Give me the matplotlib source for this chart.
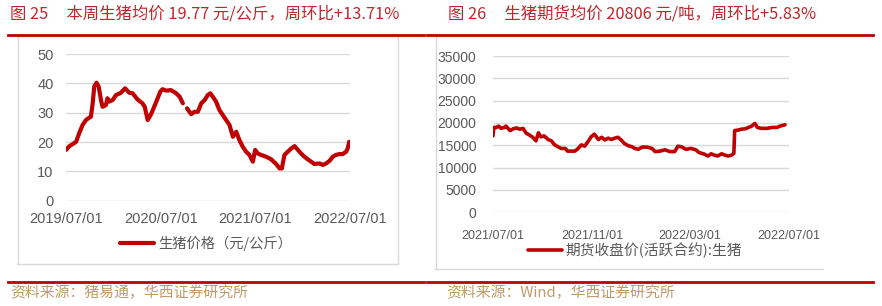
import matplotlib
matplotlib.use("Agg")
import matplotlib.pyplot as plt
import matplotlib.dates as mdates
from matplotlib.lines import Line2D
from matplotlib import font_manager
import numpy as np
import pandas as pd

# ---------------- data ----------------
hog_dates = ["2019-07-01", "2019-07-14", "2019-07-27", "2019-08-09", "2019-08-21", "2019-09-03",
             "2019-09-16", "2019-09-29", "2019-10-05", "2019-10-12", "2019-10-18", "2019-10-27",
             "2019-11-04", "2019-11-13", "2019-11-19", "2019-12-02", "2019-12-08", "2019-12-15",
             "2019-12-28", "2020-01-10", "2020-01-29", "2020-02-14", "2020-03-01", "2020-03-14",
             "2020-04-02", "2020-04-21", "2020-04-30", "2020-05-11", "2020-05-21", "2020-06-03",
             "2020-06-16", "2020-06-29", "2020-07-08", "2020-07-21", "2020-08-09", "2020-08-29",
             "2020-09-11", "2020-09-24", "2020-10-02", "2020-10-10", "2020-10-26", "2020-11-08",
             "2020-11-21", "2020-12-04", "2020-12-17", "2020-12-29", "2021-01-08", "2021-01-17",
             "2021-01-30", "2021-02-12", "2021-02-25", "2021-03-10", "2021-03-23", "2021-04-05",
             "2021-04-18", "2021-04-30", "2021-05-13", "2021-05-26", "2021-06-08", "2021-06-21",
             "2021-06-30", "2021-07-10", "2021-07-23", "2021-08-11", "2021-08-31", "2021-09-19",
             "2021-10-02", "2021-10-11", "2021-10-21", "2021-11-03", "2021-11-16", "2021-11-29",
             "2021-12-12", "2021-12-24", "2022-01-06", "2022-01-19", "2022-02-01", "2022-02-14",
             "2022-03-05", "2022-03-18", "2022-03-31", "2022-04-13", "2022-04-26", "2022-05-08",
             "2022-05-21", "2022-06-03", "2022-06-16", "2022-06-22", "2022-06-28"]
hog_price = [17.3, 18.6, 19.3, 20.1, 23.0, 25.8,
             27.5, 28.3, 28.6, 33.2, 38.9, 40.2,
             38.9, 34.3, 32.0, 32.6, 34.9, 33.8,
             34.3, 36.0, 36.8, 38.3, 36.8, 36.6,
             34.5, 33.2, 32.0, 27.5, 28.9, 31.5,
             34.3, 37.2, 38.0, 37.5, 37.7, 36.6,
             35.5, 33.2, np.nan, 31.5, 29.5, 30.3,
             30.3, 33.2, 34.3, 36.0, 36.6, 35.5,
             33.8, 30.9, 29.2, 27.5, 25.8, 21.8,
             23.5, 20.7, 18.4, 16.7, 15.6, 13.3,
             17.3, 16.1, 15.6, 15.0, 14.1, 12.5,
             11.0, 11.0, 15.6, 16.7, 17.8, 18.6,
             17.3, 16.1, 15.0, 14.1, 13.3, 12.5,
             12.7, 12.2, 12.7, 13.6, 15.0, 15.6,
             15.9, 15.9, 16.7, 17.8, 20.1]

fut_dates = ["2021-07-01", "2021-07-02", "2021-07-05", "2021-07-08", "2021-07-11", "2021-07-15",
             "2021-07-17", "2021-07-22", "2021-07-26", "2021-07-30", "2021-08-03", "2021-08-07",
             "2021-08-11", "2021-08-15", "2021-08-19", "2021-08-23", "2021-08-26", "2021-08-29",
             "2021-09-02", "2021-09-07", "2021-09-11", "2021-09-15", "2021-09-19", "2021-09-23",
             "2021-09-28", "2021-10-01", "2021-10-06", "2021-10-10", "2021-10-14", "2021-10-18",
             "2021-10-22", "2021-10-26", "2021-10-30", "2021-11-03", "2021-11-08", "2021-11-12",
             "2021-11-16", "2021-11-20", "2021-11-24", "2021-11-28", "2021-12-02", "2021-12-06",
             "2021-12-10", "2021-12-15", "2021-12-19", "2021-12-23", "2021-12-27", "2022-01-01",
             "2022-01-07", "2022-01-13", "2022-01-17", "2022-01-23", "2022-01-29", "2022-02-04",
             "2022-02-10", "2022-02-14", "2022-02-18", "2022-02-24", "2022-03-02", "2022-03-08",
             "2022-03-12", "2022-03-19", "2022-03-23", "2022-03-27", "2022-03-31", "2022-04-04",
             "2022-04-09", "2022-04-13", "2022-04-17", "2022-04-21", "2022-04-24", "2022-04-25",
             "2022-04-29", "2022-05-03", "2022-05-08", "2022-05-12", "2022-05-16", "2022-05-20",
             "2022-05-23", "2022-05-28", "2022-06-04", "2022-06-10", "2022-06-16", "2022-06-20",
             "2022-06-26"]
fut_price = [17100, 19000, 19000, 19300, 18800, 19000,
             19300, 18300, 18700, 18900, 18600, 18800,
             17700, 17300, 16800, 16000, 17800, 16900,
             17100, 16300, 16000, 15100, 14700, 14300,
             14300, 13700, 13700, 13700, 14300, 15100,
             14800, 15800, 16900, 17500, 16300, 16800,
             16200, 16600, 16300, 16600, 16800, 16200,
             15400, 14900, 14700, 14300, 14100, 14600,
             14600, 14300, 13600, 13700, 14000, 13600,
             13600, 14800, 14700, 14100, 14300, 14000,
             13400, 13000, 12600, 13100, 12800, 12600,
             13100, 12800, 12600, 12800, 13200, 18300,
             18400, 18600, 18700, 19000, 19300, 19900,
             19000, 18800, 18800, 19000, 19000, 19300,
             19600]

left_yticks = [0, 10, 20, 30, 40, 50]
left_xticks = ["2019-07-01", "2020-07-01", "2021-07-01", "2022-07-01"]
right_yticks = [0, 5000, 10000, 15000, 20000, 25000, 30000, 35000]
right_xticks = ["2021-07-01", "2021-11-01", "2022-03-01", "2022-07-01"]

title_left = "图 25     本周生猪均价 19.77 元/公斤，周环比+13.71%"
title_right = "图 26     生猪期货均价 20806 元/吨，周环比+5.83%"
legend_left = "生猪价格（元/公斤）"
legend_right = "期货收盘价(活跃合约):生猪"
source_left = "资料来源：猪易通，华西证券研究所"
source_right = "资料来源：Wind，华西证券研究所"

# ---------------- style ----------------
plt.rcParams['font.family'] = ['Liberation Sans', 'Noto Sans CJK SC', 'DejaVu Sans']
CJK = ['Noto Sans CJK SC', 'DejaVu Sans']
names = {f.name for f in font_manager.fontManager.ttflist}
NARROW = 'Liberation Sans Narrow' if 'Liberation Sans Narrow' in names else 'Liberation Sans'
narrow_size = 10.5 if NARROW == 'Liberation Sans Narrow' else 9

RED = '#C00000'
TXT_RED = '#C0272D'
GRAY = '#595959'
GRID = '#D9D9D9'
TAN = '#BF9A6A'

W, H = 882, 306
fig = plt.figure(figsize=(W / 100, H / 100), dpi=100)


def fx(x):
    return x / W


def fy(y):
    return 1 - y / H


def hline(x0, x1, y, color, lw):
    fig.add_artist(Line2D([fx(x0), fx(x1)], [fy(y), fy(y)], color=color, lw=lw,
                          transform=fig.transFigure))


def vline(x, y0, y1, color, lw):
    fig.add_artist(Line2D([fx(x), fx(x)], [fy(y0), fy(y1)], color=color, lw=lw,
                          transform=fig.transFigure))


# frames
hline(17, 398, 35.5, GRID, 1)
hline(17, 398, 264, GRID, 1)
vline(17.5, 35.5, 264, GRID, 1)
vline(397.5, 35.5, 264, GRID, 1)
vline(435.5, 36, 269, GRID, 1)
hline(435, 823, 269, GRID, 1)

# red rules
for (a, b) in [(8, 424), (427, 873)]:
    hline(a, b, 34.5, RED, 2)
    hline(a, b, 282, RED, 2)

# titles
fig.text(fx(10), fy(14), title_left, color=TXT_RED, fontsize=11.8, family=CJK, va='center', ha='left')
fig.text(fx(448), fy(14), title_right, color=TXT_RED, fontsize=11.8, family=CJK, va='center', ha='left')
fig.text(fx(10), fy(293), source_left, color=TAN, fontsize=10.7, family=CJK, va='center', ha='left')
fig.text(fx(446), fy(293), source_right, color=TAN, fontsize=10.7, family=CJK, va='center', ha='left')


def style_axes(ax):
    for s in ax.spines.values():
        s.set_visible(False)
    ax.grid(axis='y', color=GRID, lw=1)
    ax.set_axisbelow(True)
    ax.tick_params(axis='both', length=0, colors=GRAY)


# ---------------- left chart ----------------
axL = fig.add_axes([fx(66), fy(200.7), fx(350 - 66), (200.7 - 54) / H])
style_axes(axL)
axL.plot(pd.to_datetime(hog_dates), hog_price, color=RED, lw=3.0, solid_capstyle='round',
         solid_joinstyle='round', label=legend_left)
axL.set_ylim(0, 50)
axL.set_yticks(left_yticks)
axL.set_xlim(pd.Timestamp(left_xticks[0]), pd.Timestamp(left_xticks[-1]))
axL.set_xticks(pd.to_datetime(left_xticks))
axL.xaxis.set_major_formatter(mdates.DateFormatter('%Y/%m/%d'))
axL.tick_params(axis='y', labelsize=10.5, pad=9)
axL.tick_params(axis='x', labelsize=10.5, pad=8)
axL.legend(loc='center', bbox_to_anchor=(fx(206), fy(243)), bbox_transform=fig.transFigure,
           frameon=False, prop={'family': CJK, 'size': 10.3}, handlelength=2.4,
           handletextpad=0.25, labelcolor=GRAY)

# ---------------- right chart ----------------
axR = fig.add_axes([fx(493), fy(212.3), fx(789 - 493), (212.3 - 56) / H])
style_axes(axR)
axR.plot(pd.to_datetime(fut_dates), fut_price, color=RED, lw=2.6, solid_capstyle='round',
         solid_joinstyle='round', label=legend_right)
axR.set_ylim(0, 35000)
axR.set_yticks(right_yticks)
axR.set_xlim(pd.Timestamp(right_xticks[0]), pd.Timestamp(right_xticks[-1]))
axR.set_xticks(pd.to_datetime(right_xticks))
axR.xaxis.set_major_formatter(mdates.DateFormatter('%Y/%m/%d'))
axR.tick_params(axis='y', labelsize=10, pad=12)
axR.tick_params(axis='x', labelsize=narrow_size, pad=13)
for lab in axR.get_xticklabels():
    lab.set_family(NARROW)
axR.legend(loc='center', bbox_to_anchor=(fx(635), fy(250)), bbox_transform=fig.transFigure,
           frameon=False, prop={'family': CJK, 'size': 10.6}, handlelength=2.3,
           handletextpad=0.2, labelcolor=GRAY)

fig.savefig('out.png', dpi=100)
